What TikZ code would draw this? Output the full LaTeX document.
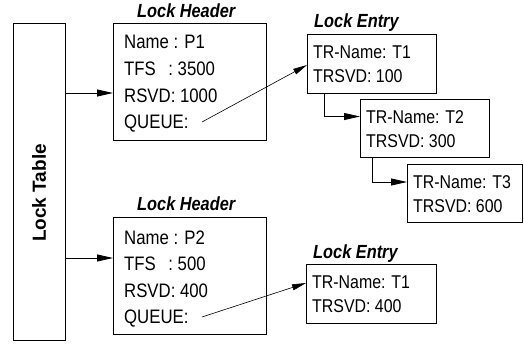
\documentclass[tikz,border=0pt]{standalone}
\usepackage{fontspec}
\setmainfont{Liberation Sans}[FakeStretch=0.86]
\newfontfamily\widefont{Liberation Sans}
\usetikzlibrary{positioning,arrows.meta}

\begin{document}
\begin{tikzpicture}[x=1pt,y=-1pt,
    box/.style={draw, line width=0.8pt, inner sep=0pt},
    hline/.style={anchor=base west, inner sep=0pt, font=\fontsize{19.5}{21}\selectfont},
    eline/.style={anchor=base west, inner sep=0pt, font=\fontsize{18.5}{20}\selectfont},
    boxtitle/.style={anchor=base west, inner sep=0pt, font=\fontsize{19}{21}\selectfont\bfseries\itshape},
    arr/.style={line width=0.8pt, -{Triangle[length=16pt,width=7pt]}},
    link/.style={line width=0.6pt, -{Triangle[length=14pt,width=6pt]}}]

\useasboundingbox (0,0) rectangle (524,343);

% Lock table
\node[box, minimum width=52pt, minimum height=317pt, anchor=north west] (lt) at (13,23) {};
\node[rotate=90, font=\widefont\fontsize{19}{21}\selectfont\bfseries] (ltlabel) at (39,193) {Lock Table};

% Lock header P1
\node[boxtitle] (h1title) at (137,17) {Lock Header};
\node[box, minimum width=153pt, minimum height=117pt, anchor=north west] (h1) at (113,23) {};
\node[hline] (h1n) at (124,48) {Name : P1};
\node[hline] (h1t) at (124,75) {TFS\hspace{12.5pt}: 3500};
\node[hline] (h1r) at (124,102) {RSVD: 1000};
\node[hline] (h1q) at (124,128.5) {QUEUE:};

% Lock header P2
\node[boxtitle] (h2title) at (137,210) {Lock Header};
\node[box, minimum width=153pt, minimum height=117pt, anchor=north west] (h2) at (113,217) {};
\node[hline] (h2n) at (124,244) {Name : P2};
\node[hline] (h2t) at (124,270.5) {TFS\hspace{12.5pt}: 500};
\node[hline] (h2r) at (124,297) {RSVD: 400};
\node[hline] (h2q) at (124,323) {QUEUE:};

% Lock entries of P1
\node[boxtitle] (e1title) at (314,27) {Lock Entry};
\node[box, minimum width=129pt, minimum height=59pt, anchor=north west] (e1) at (307,34) {};
\node[eline] (e1n) at (313,58) {TR-Name: T1};
\node[eline] (e1r) at (313,82) {TRSVD: 100};

\node[box, minimum width=129pt, minimum height=58pt, anchor=north west] (e2) at (360,99) {};
\node[eline] (e2n) at (366,123) {TR-Name: T2};
\node[eline] (e2r) at (366,147) {TRSVD: 300};

\node[box, minimum width=115pt, minimum height=58.5pt, anchor=north west] (e3) at (407,163.5) {};
\node[eline] (e3n) at (413,188) {TR-Name: T3};
\node[eline] (e3r) at (413,212) {TRSVD: 600};

% Lock entry of P2
\node[boxtitle] (e4title) at (313,258) {Lock Entry};
\node[box, minimum width=130pt, minimum height=59pt, anchor=north west] (e4) at (306,264) {};
\node[eline] (e4n) at (312,288) {TR-Name: T1};
\node[eline] (e4r) at (312,312) {TRSVD: 400};

% Table to headers
\coordinate (t1) at (65,93);
\coordinate (t2) at (65,258);
\draw[arr] (t1) -- (h1.west |- t1);
\draw[arr] (t2) -- (h2.west |- t2);

% Queue pointers
\coordinate (q1) at (202,122);
\coordinate (q2) at (202,317);
\draw[link] (q1) -- ([yshift=-31pt]e1.north west);
\draw[link] (q2) -- ([yshift=-19pt]e4.north west);

% Chain of entries
\coordinate (c12) at (324,93);
\coordinate (c23) at (372,157);
\draw[arr] (c12) |- ([yshift=-17.5pt]e2.north west);
\draw[arr] (c23) |- ([yshift=-18.5pt]e3.north west);

\end{tikzpicture}
\end{document}
